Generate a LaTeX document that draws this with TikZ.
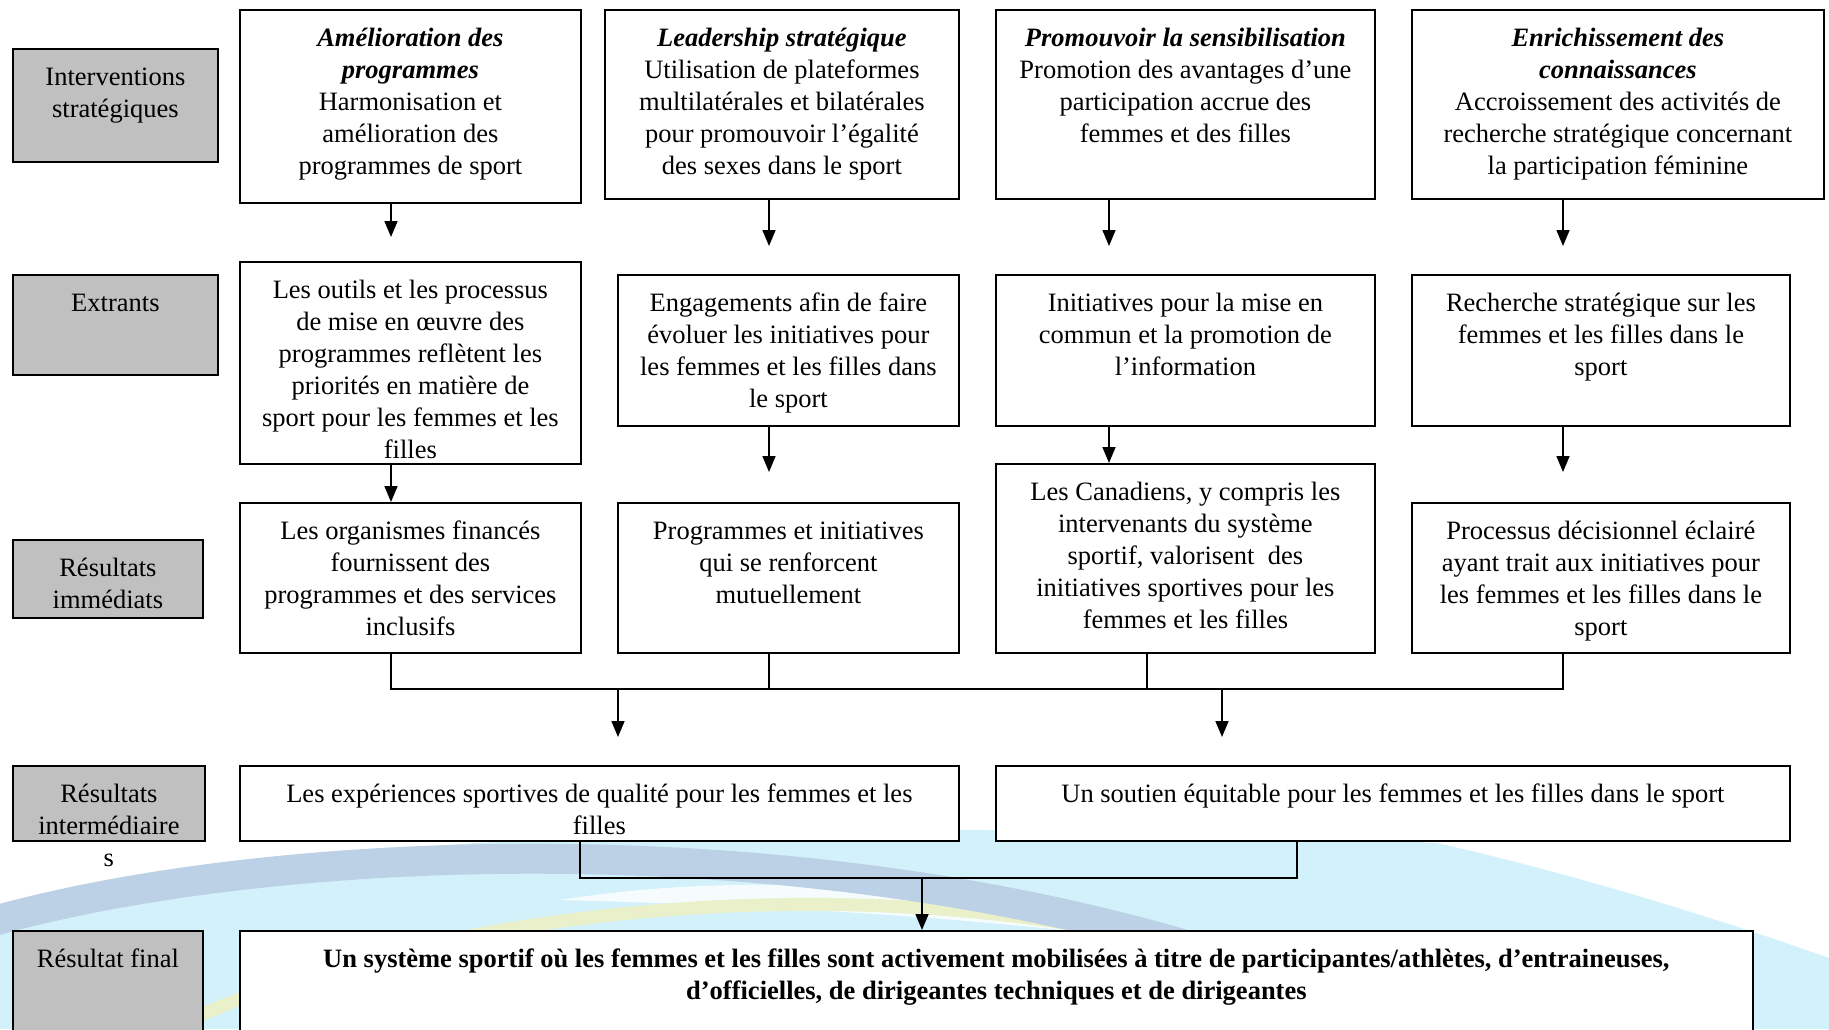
\documentclass[tikz,border=0pt]{standalone}
\usepackage{fontspec}
\setmainfont{Liberation Serif}
\usetikzlibrary{arrows.meta,positioning}
\definecolor{gris}{HTML}{C0C0C0}
\definecolor{ciel}{HTML}{D3F1FA}
\definecolor{acier}{HTML}{BCD1E5}
\definecolor{paille}{HTML}{E9F0CA}
% contenu d'une boite : largeur, hauteur, texte (aligne en haut)
\newcommand{\cadre}[3]{\parbox[c][#2pt][t]{#1pt}{\centering\vspace{14.5pt}\strut#3}}
\tikzset{
  boite/.style={draw, line width=1.8pt, fill=white, inner sep=0pt, anchor=north west,
    font=\fontsize{26.5}{32}\selectfont},
  etiquette/.style={boite, fill=gris},
  trait/.style={line width=1.6pt},
  fleche/.style={trait, -{Triangle[length=16pt,width=13pt]}}
}
\begin{document}
\begin{tikzpicture}[x=1pt,y=-1pt]
  \useasboundingbox (0,0) rectangle (1829,1029);
  % fond
  \fill[ciel] (0,905) .. controls (300,830) and (900,815) .. (1437,843)
    .. controls (1600,880) and (1750,930) .. (1829,958) -- (1829,1029) -- (0,1029) -- cycle;
  \fill[white, opacity=.8] (560,900) .. controls (750,870) and (950,885) .. (1150,940)
    .. controls (950,915) and (750,905) .. (560,900) -- cycle;
  \draw[paille, line width=13pt] (150,1040) .. controls (350,930) and (800,850) .. (1200,950);
  \draw[acier, line width=30pt] (-20,925) .. controls (250,845) and (800,815) .. (1250,965);

  % etiquettes
  \node[etiquette] (lab1) at (12,48) {\cadre{205}{113}{Interventions\\stratégiques}};
  \node[etiquette] (lab2) at (12,274) {\cadre{205}{100}{Extrants}};
  \node[etiquette] (lab3) at (12,539) {\cadre{190}{78}{Résultats\\immédiats}};
  \node[etiquette] (lab4) at (12,765) {\cadre{192}{75}{Résultats\\intermédiaire\\s}};
  \node[etiquette] (lab5) at (12,930) {\cadre{190}{110}{Résultat final}};

  % interventions
  \node[boite] (int1) at (239,9) {\cadre{341}{193}{\textbf{\textit{Amélioration des\\programmes}}\\Harmonisation et\\amélioration des\\programmes de sport}};
  \node[boite] (int2) at (604,9) {\cadre{354}{189}{\textbf{\textit{Leadership stratégique}}\\Utilisation de plateformes\\multilatérales et bilatérales\\pour promouvoir l’égalité\\des sexes dans le sport}};
  \node[boite] (int3) at (995,9) {\cadre{379}{189}{\textbf{\textit{Promouvoir la sensibilisation}}\\Promotion des avantages d’une\\participation accrue des\\femmes et des filles}};
  \node[boite] (int4) at (1411,9) {\cadre{412}{189}{\textbf{\textit{Enrichissement des\\connaissances}}\\Accroissement des activités de\\recherche stratégique concernant\\la participation féminine}};

  % extrants
  \node[boite] (ext1) at (239,261) {\cadre{341}{202}{Les outils et les processus\\de mise en œuvre des\\programmes reflètent les\\priorités en matière de\\sport pour les femmes et les\\filles}};
  \node[boite] (ext2) at (617,274) {\cadre{341}{151}{Engagements afin de faire\\évoluer les initiatives pour\\les femmes et les filles dans\\le sport}};
  \node[boite] (ext3) at (995,274) {\cadre{379}{151}{Initiatives pour la mise en\\commun et la promotion de\\l’information}};
  \node[boite] (ext4) at (1411,274) {\cadre{378}{151}{Recherche stratégique sur les\\femmes et les filles dans le\\sport}};

  % resultats immediats
  \node[boite] (res1) at (239,502) {\cadre{341}{150}{Les organismes financés\\fournissent des\\programmes et des services\\inclusifs}};
  \node[boite] (res2) at (617,502) {\cadre{341}{150}{Programmes et initiatives\\qui se renforcent\\mutuellement}};
  \node[boite] (res3) at (995,463) {\cadre{379}{189}{Les Canadiens, y compris les\\intervenants du système\\sportif, valorisent\ \ des\\initiatives sportives pour les\\femmes et les filles}};
  \node[boite] (res4) at (1411,502) {\cadre{378}{150}{Processus décisionnel éclairé\\ayant trait aux initiatives pour\\les femmes et les filles dans le\\sport}};

  % resultats intermediaires et final
  \node[boite] (inter1) at (239,765) {\cadre{719}{75}{Les expériences sportives de qualité pour les femmes et les\\filles}};
  \node[boite] (inter2) at (995,765) {\cadre{794}{75}{Un soutien équitable pour les femmes et les filles dans le sport}};
  \node[boite] (fin) at (239,930) {\cadre{1513}{110}{\textbf{Un système sportif où les femmes et les filles sont activement mobilisées à titre de participantes/athlètes, d’entraineuses,\\d’officielles, de dirigeantes techniques et de dirigeantes}}};

  % points des fleches
  \coordinate (a1) at (391,237);
  \coordinate (a2) at (769,246);
  \coordinate (a3) at (1109,246);
  \coordinate (a4) at (1563,246);
  \coordinate (b2) at (769,472);
  \coordinate (b4) at (1563,472);
  \coordinate (h1) at (391,689);
  \coordinate (h3) at (1147,689);
  \coordinate (h4) at (1563,689);
  \coordinate (c1) at (618,737);
  \coordinate (c2) at (1222,737);
  \coordinate (g1) at (580,878);
  \coordinate (g2) at (1297,878);
  \coordinate (g3) at (922,878);

  \draw[fleche] (int1.south -| a1) -- (a1);
  \draw[fleche] (int2.south -| a2) -- (a2);
  \draw[fleche] (int3.south -| a3) -- (a3);
  \draw[fleche] (int4.south -| a4) -- (a4);

  \draw[fleche] (ext1.south -| a1) -- (res1.north -| a1);
  \draw[fleche] (ext2.south -| b2) -- (b2);
  \draw[fleche] (ext3.south -| a3) -- (res3.north -| a3);
  \draw[fleche] (ext4.south -| b4) -- (b4);

  \draw[trait] (res1.south -| h1) -- (h1) -- (h4) -- (res4.south -| h4);
  \draw[trait] (res2.south -| b2) -- (b2 |- h1);
  \draw[trait] (res3.south -| h3) -- (h3);
  \draw[fleche] (c1 |- h1) -- (c1);
  \draw[fleche] (c2 |- h1) -- (c2);

  \draw[trait] (inter1.south -| g1) -- (g1) -- (g2) -- (inter2.south -| g2);
  \draw[fleche] (g3) -- (fin.north -| g3);
\end{tikzpicture}
\end{document}
